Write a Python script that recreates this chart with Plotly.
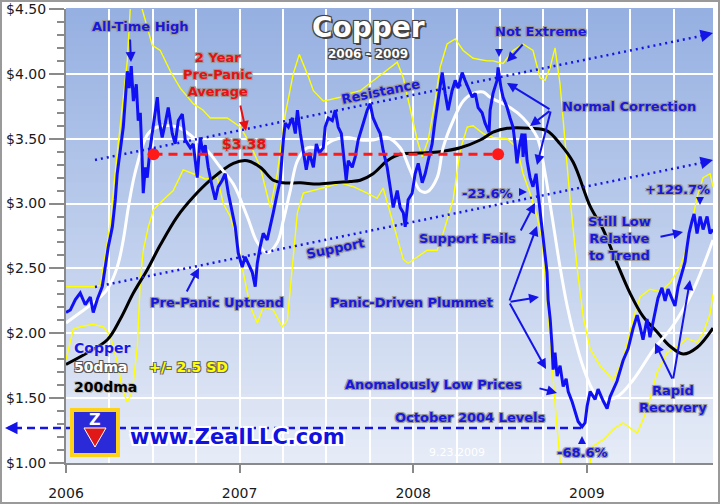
import plotly.graph_objects as go

# ---------------- data (decimal years, $/lb) ----------------
PRICE_T = [2006.000,2006.025,2006.054,2006.082,2006.111,2006.140,2006.157,2006.180,2006.209,2006.226,2006.244,2006.267,2006.284,2006.295,2006.313,2006.330,2006.341,2006.353,2006.364,2006.376,2006.388,2006.405,2006.416,2006.428,2006.439,2006.445,2006.457,2006.468,2006.485,2006.503,2006.526,2006.537,2006.554,2006.572,2006.589,2006.612,2006.629,2006.647,2006.670,2006.687,2006.716,2006.733,2006.756,2006.773,2006.790,2006.802,2006.819,2006.842,2006.860,2006.877,2006.900,2006.917,2006.935,2006.958,2006.975,2006.992,2007.015,2007.032,2007.050,2007.073,2007.090,2007.102,2007.119,2007.136,2007.159,2007.177,2007.194,2007.217,2007.234,2007.252,2007.263,2007.281,2007.304,2007.321,2007.333,2007.350,2007.367,2007.384,2007.402,2007.425,2007.442,2007.459,2007.482,2007.493,2007.511,2007.534,2007.551,2007.568,2007.586,2007.597,2007.614,2007.626,2007.649,2007.666,2007.683,2007.706,2007.735,2007.752,2007.769,2007.792,2007.810,2007.827,2007.850,2007.867,2007.885,2007.908,2007.925,2007.943,2007.954,2007.971,2007.994,2008.011,2008.029,2008.052,2008.069,2008.086,2008.109,2008.126,2008.144,2008.167,2008.184,2008.201,2008.224,2008.242,2008.259,2008.282,2008.299,2008.317,2008.340,2008.357,2008.374,2008.397,2008.414,2008.437,2008.443,2008.460,2008.483,2008.489,2008.506,2008.518,2008.541,2008.558,2008.575,2008.587,2008.598,2008.610,2008.627,2008.633,2008.644,2008.656,2008.673,2008.690,2008.708,2008.719,2008.731,2008.748,2008.760,2008.771,2008.777,2008.789,2008.800,2008.806,2008.817,2008.829,2008.846,2008.864,2008.881,2008.893,2008.916,2008.933,2008.950,2008.973,2008.990,2009.002,2009.019,2009.048,2009.065,2009.094,2009.117,2009.134,2009.174,2009.209,2009.238,2009.267,2009.290,2009.307,2009.324,2009.347,2009.364,2009.393,2009.410,2009.433,2009.451,2009.468,2009.491,2009.508,2009.526,2009.549,2009.566,2009.578,2009.589,2009.607,2009.618,2009.635,2009.653,2009.670,2009.693,2009.710,2009.727]
PRICE_V = [2.16,2.18,2.26,2.31,2.22,2.28,2.16,2.26,2.36,2.51,2.67,2.82,3.03,3.23,3.41,3.59,3.79,4.02,3.89,4.06,3.79,3.92,3.64,3.70,3.33,3.08,3.28,3.20,3.43,3.59,3.82,3.64,3.51,3.62,3.74,3.54,3.46,3.64,3.69,3.49,3.43,3.46,3.20,3.51,3.39,3.45,3.28,3.13,3.03,3.13,3.18,3.23,3.08,2.93,2.82,2.62,2.51,2.59,2.54,2.47,2.36,2.54,2.67,2.77,2.72,2.82,2.93,3.08,3.18,3.49,3.62,3.59,3.66,3.54,3.72,3.54,3.41,3.26,3.39,3.28,3.46,3.39,3.43,3.59,3.66,3.64,3.72,3.59,3.54,3.39,3.18,3.33,3.28,3.36,3.49,3.59,3.72,3.77,3.66,3.59,3.54,3.41,3.28,3.13,2.97,3.10,2.97,2.93,2.82,3.03,3.08,3.23,3.31,3.16,3.23,3.33,3.46,3.64,3.82,4.01,3.85,3.72,3.87,3.95,3.89,4.01,3.95,3.89,3.82,3.85,3.74,3.70,3.62,3.55,3.72,3.85,3.95,4.05,3.89,3.82,3.74,3.66,3.59,3.46,3.31,3.43,3.54,3.36,3.54,3.33,3.20,3.13,3.23,3.08,2.93,2.72,2.62,2.47,2.26,2.11,1.90,1.72,1.85,1.67,1.75,1.59,1.65,1.55,1.47,1.39,1.32,1.28,1.31,1.44,1.55,1.49,1.57,1.48,1.42,1.51,1.63,1.79,1.88,2.04,2.14,2.05,1.95,2.11,1.97,2.16,2.27,2.35,2.25,2.34,2.26,2.21,2.36,2.48,2.55,2.67,2.77,2.87,2.92,2.77,2.90,2.80,2.90,2.77,2.80]

MA50_T = [2006.000,2006.082,2006.180,2006.238,2006.295,2006.330,2006.359,2006.388,2006.416,2006.445,2006.474,2006.526,2006.641,2006.733,2006.814,2006.889,2006.964,2007.044,2007.102,2007.159,2007.217,2007.252,2007.292,2007.333,2007.390,2007.465,2007.540,2007.620,2007.695,2007.769,2007.850,2007.925,2007.982,2008.040,2008.080,2008.138,2008.172,2008.230,2008.288,2008.345,2008.403,2008.443,2008.558,2008.633,2008.714,2008.760,2008.800,2008.846,2008.887,2008.933,2008.979,2009.031,2009.077,2009.174,2009.267,2009.382,2009.497,2009.612,2009.727]
MA50_V = [2.08,2.16,2.26,2.34,2.51,2.72,2.97,3.18,3.33,3.46,3.54,3.59,3.59,3.51,3.41,3.28,3.15,2.90,2.70,2.62,2.70,2.87,3.10,3.33,3.43,3.43,3.49,3.51,3.49,3.49,3.51,3.43,3.26,3.10,3.09,3.20,3.43,3.64,3.79,3.85,3.86,3.82,3.74,3.66,3.51,3.23,2.90,2.51,2.21,1.95,1.74,1.57,1.49,1.51,1.64,1.87,2.06,2.33,2.72]

MA200_T = [2006.000,2006.123,2006.238,2006.313,2006.388,2006.468,2006.543,2006.641,2006.733,2006.831,2006.964,2007.044,2007.119,2007.194,2007.252,2007.350,2007.448,2007.540,2007.637,2007.695,2007.769,2007.850,2007.925,2008.040,2008.155,2008.271,2008.386,2008.460,2008.541,2008.673,2008.771,2008.846,2008.921,2009.019,2009.094,2009.174,2009.249,2009.324,2009.405,2009.480,2009.555,2009.635,2009.727]
MA200_V = [1.76,1.85,1.95,2.11,2.31,2.49,2.68,2.90,3.05,3.18,3.31,3.33,3.28,3.18,3.16,3.16,3.15,3.16,3.17,3.18,3.23,3.33,3.38,3.39,3.40,3.43,3.49,3.55,3.58,3.58,3.56,3.46,3.32,2.98,2.80,2.54,2.31,2.13,2.01,1.90,1.84,1.89,2.04]

UPPER_T = [2006.000,2006.157,2006.198,2006.255,2006.284,2006.313,2006.353,2006.370,2006.399,2006.428,2006.468,2006.497,2006.543,2006.601,2006.658,2006.733,2006.790,2006.831,2006.929,2007.004,2007.061,2007.119,2007.177,2007.217,2007.263,2007.309,2007.344,2007.390,2007.425,2007.482,2007.580,2007.637,2007.695,2007.792,2007.867,2007.908,2007.943,2007.982,2008.023,2008.052,2008.086,2008.126,2008.155,2008.195,2008.242,2008.288,2008.345,2008.426,2008.460,2008.518,2008.575,2008.633,2008.690,2008.731,2008.760,2008.789,2008.817,2008.846,2008.875,2008.904,2008.944,2008.979,2009.019,2009.077,2009.151,2009.209,2009.267,2009.307,2009.364,2009.422,2009.480,2009.537,2009.578,2009.607,2009.635,2009.670,2009.710,2009.727]
UPPER_V = [2.36,2.36,2.37,2.85,3.25,3.59,4.10,4.50,4.75,4.55,4.36,4.22,4.18,4.02,3.89,3.77,3.72,3.66,3.66,3.59,3.46,3.28,2.97,3.23,3.69,4.00,4.15,4.00,3.87,3.79,3.82,3.85,3.87,3.97,4.05,4.09,3.97,3.74,3.49,3.36,3.49,3.79,4.05,4.23,4.27,4.18,4.12,4.10,4.10,4.08,4.18,4.23,4.18,3.97,3.95,4.05,4.20,3.92,3.49,3.03,2.51,2.13,1.88,1.75,1.64,1.80,2.11,2.28,2.34,2.32,2.39,2.51,2.67,2.87,3.05,3.20,3.23,3.13]

LOWER_T = [2006.000,2006.042,2006.082,2006.157,2006.215,2006.255,2006.295,2006.324,2006.353,2006.382,2006.411,2006.428,2006.445,2006.474,2006.503,2006.561,2006.618,2006.675,2006.733,2006.802,2006.871,2006.906,2006.946,2006.986,2007.021,2007.061,2007.102,2007.136,2007.194,2007.246,2007.275,2007.304,2007.333,2007.367,2007.425,2007.505,2007.580,2007.655,2007.735,2007.792,2007.827,2007.867,2007.908,2007.943,2007.971,2008.023,2008.080,2008.138,2008.172,2008.230,2008.271,2008.311,2008.345,2008.403,2008.460,2008.541,2008.598,2008.633,2008.673,2008.714,2008.743,2008.771,2008.800,2008.823,2008.846,2008.875,2008.933,2008.990,2009.019,2009.036,2009.094,2009.151,2009.209,2009.249,2009.290,2009.347,2009.405,2009.462,2009.520,2009.578,2009.635,2009.670,2009.710,2009.727]
LOWER_V = [1.80,2.03,2.05,2.07,2.05,1.98,1.78,1.57,1.47,1.55,1.90,2.41,2.64,2.82,2.95,3.03,3.10,3.26,3.23,3.19,3.20,3.00,2.90,2.72,2.47,2.21,2.08,2.20,2.18,2.05,2.10,2.51,2.93,3.08,3.10,3.13,3.16,3.13,3.08,3.04,3.12,2.93,2.72,2.57,2.54,2.59,2.64,2.64,2.77,3.03,3.41,3.59,3.60,3.54,3.51,3.50,3.43,3.23,3.08,2.90,2.72,2.26,1.75,1.36,1.02,0.80,0.60,0.80,1.00,1.13,1.18,1.26,1.31,1.27,1.23,1.41,1.70,1.85,1.90,1.96,1.93,2.00,2.15,2.30]

PRE_PANIC_AVG = 3.38
AVG_SPAN = [2006.504, 2008.489]
OCT2004_LEVEL = 1.27
LOW_T = 2008.973

YEARS = [2006, 2007, 2008, 2009]
YEAR_LABELS = ["2006", "2007", "2008", "2009"]
PRICE_TICKS = [1.0, 1.5, 2.0, 2.5, 3.0, 3.5, 4.0, 4.5]
PRICE_LABELS = ["$1.00", "$1.50", "$2.00", "$2.50", "$3.00", "$3.50", "$4.00", "$4.50"]
X_RANGE = [2006.0, 2009.727]

# ---------------- layout helpers (pixel -> paper) ----------------
L, R, T, B = 66, 7, 9, 41
W, H = 720, 504
PW, PH = W - L - R, H - T - B
def PX(x): return (x - L) / PW
def PY(y): return (H - B - y) / PH

FONT = "DejaVu Sans"
BLUE_TXT = "#1717e0"
HALO = "1px 1px 0 #9a9a9a, -1px -1px 0 #9a9a9a, 1px -1px 0 #9a9a9a, -1px 1px 0 #9a9a9a, 0 0 3px #a8a8a8"
DARK_HALO = "2px 2px 0 #444, -1px -1px 0 #444, 1px -1px 0 #444, -1px 1px 0 #444, 0 0 2px #444"

fig = go.Figure()

fig.add_trace(go.Scatter(x=UPPER_T, y=UPPER_V, mode="lines", line=dict(color="#ffff00", width=1.4), hoverinfo="skip"))
fig.add_trace(go.Scatter(x=LOWER_T, y=LOWER_V, mode="lines", line=dict(color="#ffff00", width=1.4), hoverinfo="skip"))
fig.add_trace(go.Scatter(x=MA200_T, y=MA200_V, mode="lines", line=dict(color="#000000", width=3, shape="spline"), hoverinfo="skip"))
fig.add_trace(go.Scatter(x=MA50_T, y=MA50_V, mode="lines", line=dict(color="#ffffff", width=3, shape="spline"), hoverinfo="skip"))
fig.add_trace(go.Scatter(x=PRICE_T, y=PRICE_V, mode="lines", line=dict(color="#1010f5", width=3), hoverinfo="skip"))
fig.add_trace(go.Scatter(x=AVG_SPAN, y=[PRE_PANIC_AVG, PRE_PANIC_AVG], mode="lines+markers",
                         line=dict(color="#ff1a1a", width=3, dash="9px,6px"),
                         marker=dict(color="#ff1a1a", size=12), hoverinfo="skip"))

shapes = []
# background gradient
N = 60
c0, c1 = (150, 176, 226), (230, 236, 247)
for i in range(N):
    f = i / (N - 1)
    col = tuple(int(c0[k] + (c1[k] - c0[k]) * f) for k in range(3))
    shapes.append(dict(type="rect", xref="paper", yref="paper", x0=0, x1=1,
                       y0=1 - (i + 1) / N, y1=1 - i / N + 0.002, layer="below",
                       line=dict(width=0), fillcolor="rgb(%d,%d,%d)" % col))
# outer frame
shapes.append(dict(type="rect", xref="paper", yref="paper", x0=PX(1), x1=PX(719), y0=PY(503), y1=PY(1),
                   line=dict(color="#9a9a9a", width=2), fillcolor="rgba(0,0,0,0)", layer="above"))
# resistance / support dotted trend lines
for (x0, y0, x1, y1) in [(95, 160, 706, 35), (95, 287, 706, 162)]:
    shapes.append(dict(type="line", xref="paper", yref="paper", x0=PX(x0), y0=PY(y0), x1=PX(x1), y1=PY(y1),
                       line=dict(color="#1414e8", width=2.5, dash="2px,4px"), layer="above"))
# October 2004 level dashed line
shapes.append(dict(type="line", xref="paper", yref="y", x0=PX(14),
                   x1=(LOW_T - X_RANGE[0]) / (X_RANGE[1] - X_RANGE[0]),
                   y0=OCT2004_LEVEL, y1=OCT2004_LEVEL,
                   line=dict(color="#1414e8", width=2.5, dash="8px,5px"), layer="above"))
# logo
shapes.append(dict(type="rect", xref="paper", yref="paper", x0=PX(72), x1=PX(118), y0=PY(455), y1=PY(410),
                   line=dict(color="#ffd21a", width=4), fillcolor="#2a2ad8", layer="above"))
shapes.append(dict(type="path", xref="paper", yref="paper", layer="above",
                   path="M %f %f L %f %f L %f %f Z" % (PX(95), PY(447), PX(84), PY(428), PX(106), PY(428)),
                   fillcolor="#e01818", line=dict(color="#ffffff", width=1)))
fig.update_layout(shapes=shapes)

ann = []
def text(x, y, s, size=13, color=BLUE_TXT, shadow=HALO, xanchor="center", angle=0, bold=True):
    ann.append(dict(x=PX(x), y=PY(y), xref="paper", yref="paper", text=("<b>%s</b>" % s) if bold else s,
                    showarrow=False, xanchor=xanchor, yanchor="middle", textangle=angle,
                    font=dict(family=FONT, size=size, color=color, shadow=shadow)))
def arrow(tx, ty, hx, hy, color="#1414e8", width=2, head=2, size=1.0):
    ann.append(dict(x=PX(hx), y=PY(hy), xref="paper", yref="paper", text="", showarrow=True,
                    ax=tx - hx, ay=ty - hy, arrowhead=head, arrowsize=size, arrowwidth=width,
                    arrowcolor=color, standoff=0, startstandoff=0))

# title
text(368, 28, "Copper", size=28, color="#ffffff", shadow=DARK_HALO)
text(368, 54, "2006 - 2009", size=12, color="#ffffff", shadow=DARK_HALO)

text(140, 27, "All-Time High")
arrow(130, 38, 131, 62)
text(218, 74, "2 Year<br>Pre-Panic<br>Average", size=13, color="#e81010")
arrow(240, 104, 246, 131, color="#e81010")
text(244, 144, "$3.38", size=14, color="#e81010")
text(381, 92, "Resistance", angle=-11.6)
text(335, 248, "Support", angle=-11.6)
arrow(700, 36, 713, 33, width=2.5)
arrow(700, 163, 713, 160, width=2.5)
text(217, 302, "Pre-Panic Uptrend")
arrow(186, 293, 199, 268)
text(467, 238, "Support Fails")
arrow(520, 232, 535, 203)
text(487, 193, "-23.6%")
arrow(518, 192, 527, 192, size=0.8)
text(411, 303, "Panic-Driven Plummet")
arrow(509, 302, 537, 226)
arrow(509, 302, 539, 297)
arrow(509, 302, 546, 369)
text(433, 384, "Anomalously Low Prices")
arrow(538, 388, 557, 393)
text(470, 417, "October 2004 Levels")
arrow(14, 428, 5, 428, width=2.5)
text(582, 452, "-68.6%")
arrow(582, 445, 582, 436, size=0.8)
text(541, 32, "Not Extreme")
arrow(524, 43, 507, 62)
arrow(499, 49, 499, 57, size=0.8)
text(629, 106, "Normal Correction")
arrow(551, 110, 507, 83)
arrow(551, 110, 530, 126)
arrow(551, 110, 537, 165)
text(619, 238, "Still Low<br>Relative<br>to Trend")
arrow(659, 237, 683, 232)
text(677, 189, "+129.7%")
arrow(700, 197, 700, 205, size=0.8)
text(673, 399, "Rapid<br>Recovery")
arrow(673, 380, 655, 343)
arrow(673, 380, 690, 280)

# legend block
text(72, 348, "Copper", size=14, color="#1717e8", shadow="0 0 2px #ffffff, 1px 1px 0 #c8c8c8", xanchor="left")
text(72, 367, "50dma", size=14, color="#ffffff", shadow="1px 1px 0 #555, -1px -1px 0 #555, 1px -1px 0 #555, -1px 1px 0 #555", xanchor="left")
text(147, 367, "+/- 2.5 SD", size=14, color="#ffff00", shadow="1px 1px 0 #666, -1px -1px 0 #666, 1px -1px 0 #666, -1px 1px 0 #666", xanchor="left")
text(72, 387, "200dma", size=14, color="#000000", shadow="1px 1px 0 #bbb, -1px -1px 0 #bbb, 0 0 3px #ddd", xanchor="left")

text(128, 437, "www.ZealLLC.com", size=21, color="#1212e0",
     shadow="2px 2px 0 #ffffff, -2px -2px 0 #ffffff, 2px -2px 0 #ffffff, -2px 2px 0 #ffffff", xanchor="left")
text(95, 419, "Z", size=16, color="#ffffff", shadow="")
text(457, 452, "9.23.2009", size=11, color="#ffffff", shadow="", bold=False)

fig.update_layout(annotations=ann)

fig.update_layout(
    width=W, height=H,
    margin=dict(l=L, r=R, t=T, b=B, autoexpand=False),
    paper_bgcolor="#ffffff", plot_bgcolor="#c4d3ee",
    showlegend=False,
    xaxis=dict(range=X_RANGE, tickvals=YEARS, ticktext=YEAR_LABELS, automargin=False,
               ticks="outside", ticklen=8, tickwidth=2, tickcolor="#8a8a8a",
               showline=True, linecolor="#8a8a8a", linewidth=2,
               showgrid=True, gridcolor="#ffffff", gridwidth=2, zeroline=False,
               ticklabelstandoff=8,
               tickfont=dict(family=FONT, size=14, color="#1a1a1a"),
               minor=dict(tick0=2006, dtick=0.25, showgrid=True, gridcolor="#ffffff", gridwidth=2, ticks="")),
    yaxis=dict(range=[1.0, 4.5], tickvals=PRICE_TICKS, ticktext=PRICE_LABELS, automargin=False,
               ticks="outside", ticklen=15, tickwidth=2, tickcolor="#8a8a8a",
               showline=True, linecolor="#8a8a8a", linewidth=2,
               showgrid=True, gridcolor="#ffffff", gridwidth=2, zeroline=False,
               tickfont=dict(family=FONT, size=14, color="#1a1a1a"),
               minor=dict(dtick=0.1, tick0=1.0, ticks="outside", ticklen=7, tickwidth=2,
                          tickcolor="#8a8a8a", showgrid=False)),
)

fig.write_html("out.html", config={"displayModeBar": False},
               post_script="document.body.style.margin='0px';document.body.style.overflow='hidden';")
